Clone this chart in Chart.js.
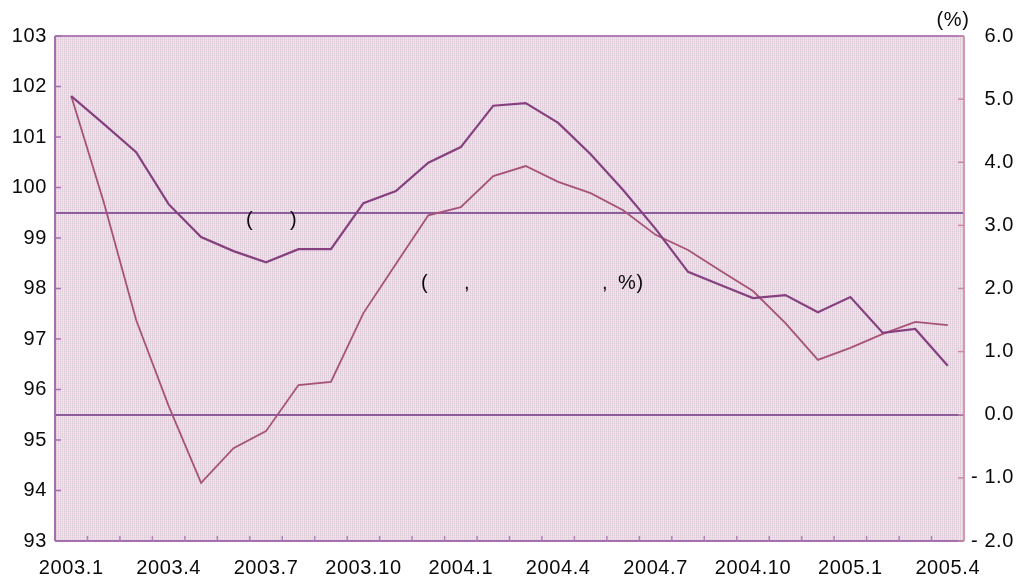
<!DOCTYPE html>
<html>
<head>
<meta charset="utf-8">
<script src="https://cdn.jsdelivr.net/npm/chart.js@4/dist/chart.umd.min.js"></script>
<style>
  html, body { margin: 0; padding: 0; background: #ffffff; }
  #wrap { width: 1023px; height: 585px; }
</style>
</head>
<body>
<div id="wrap"><canvas id="c" width="1023" height="585"></canvas></div>
<script>
// ---- Data ----
const categories = [
  '2003.1','2003.2','2003.3','2003.4','2003.5','2003.6','2003.7','2003.8','2003.9','2003.10','2003.11','2003.12',
  '2004.1','2004.2','2004.3','2004.4','2004.5','2004.6','2004.7','2004.8','2004.9','2004.10','2004.11','2004.12',
  '2005.1','2005.2','2005.3','2005.4'
];
const shownTickLabels = ['2003.1','2003.4','2003.7','2003.10','2004.1','2004.4','2004.7','2004.10','2005.1','2005.4'];
// left axis series
const seriesLeft = [
  101.81, 101.26, 100.70, 99.67, 99.02, 98.74, 98.52, 98.78, 98.78, 99.69, 99.93, 100.49,
  100.80, 101.62, 101.67, 101.28, 100.66, 99.95, 99.18, 98.33, 98.07, 97.81, 97.87, 97.53,
  97.83, 97.12, 97.20, 96.47
];
// right axis series (%)
const seriesRight = [
  5.05, 3.37, 1.50, 0.14, -1.08, -0.53, -0.26, 0.47, 0.52, 1.61, 2.39, 3.16,
  3.29, 3.78, 3.94, 3.69, 3.51, 3.24, 2.85, 2.61, 2.28, 1.96, 1.45, 0.87,
  1.06, 1.28, 1.47, 1.42
];
const leftTicks = { min: 93, max: 103, step: 1 };
const rightTicks = { min: -2, max: 6, step: 1 };
const referenceLinesLeft = [99.5, 95.5];
const rightUnitLabel = '(%)';

const FONT = "'Liberation Sans', Arial, sans-serif";

// background pattern
function makePattern(ctx) {
  const t = document.createElement('canvas');
  t.width = 2; t.height = 2;
  const c = t.getContext('2d');
  const cols = [['#eecfe1', '#f3ebf2'], ['#d6d1d7', '#e9dde8']];
  for (let r = 0; r < 2; r++) for (let q = 0; q < 2; q++) {
    c.fillStyle = cols[r][q]; c.fillRect(q, r, 1, 1);
  }
  return ctx.createPattern(t, 'repeat');
}

const framePlugin = {
  id: 'frame',
  beforeDraw(chart) {
    const ctx = chart.ctx;
    ctx.letterSpacing = '0.6px';
    const a = chart.chartArea;
    ctx.save();
    ctx.fillStyle = makePattern(ctx);
    ctx.fillRect(a.left, a.top, a.right - a.left, a.bottom - a.top);
    ctx.restore();
  },
  beforeDatasetsDraw(chart) {
    const ctx = chart.ctx;
    const a = chart.chartArea;
    const y = chart.scales.y;
    ctx.save();
    ctx.strokeStyle = '#8d5c9c';
    ctx.lineWidth = 2;
    referenceLinesLeft.forEach(v => {
      const py = Math.round(y.getPixelForValue(v));
      ctx.beginPath(); ctx.moveTo(a.left, py); ctx.lineTo(a.right, py); ctx.stroke();
    });
    ctx.restore();
  },
  afterDatasetsDraw(chart) {
    const ctx = chart.ctx;
    const a = chart.chartArea;
    const x = chart.scales.x, y = chart.scales.y, y1 = chart.scales.y1;
    ctx.save();
    // borders
    ctx.lineWidth = 2;
    ctx.strokeStyle = '#b47fb8';
    ctx.beginPath(); ctx.moveTo(a.left, a.top); ctx.lineTo(a.right, a.top); ctx.stroke();
    ctx.strokeStyle = '#a56fae';
    ctx.beginPath(); ctx.moveTo(a.left, a.top); ctx.lineTo(a.left, a.bottom); ctx.stroke();
    ctx.beginPath(); ctx.moveTo(a.left, a.bottom); ctx.lineTo(a.right, a.bottom); ctx.stroke();
    ctx.strokeStyle = '#d49ab4';
    ctx.beginPath(); ctx.moveTo(a.right, a.top); ctx.lineTo(a.right, a.bottom); ctx.stroke();
    // inward ticks
    ctx.lineWidth = 1.5;
    ctx.strokeStyle = '#a56fae';
    y.ticks.forEach(t => {
      const py = y.getPixelForValue(t.value);
      ctx.beginPath(); ctx.moveTo(a.left, py); ctx.lineTo(a.left + 6, py); ctx.stroke();
    });
    ctx.strokeStyle = '#c78aaa';
    y1.ticks.forEach(t => {
      const py = y1.getPixelForValue(t.value);
      ctx.beginPath(); ctx.moveTo(a.right, py); ctx.lineTo(a.right - 6, py); ctx.stroke();
    });
    ctx.strokeStyle = '#b47fb8';
    for (let i = 0; i < categories.length - 1; i++) {
      const px = (x.getPixelForValue(i) + x.getPixelForValue(i + 1)) / 2;
      ctx.beginPath(); ctx.moveTo(px, a.bottom); ctx.lineTo(px, a.bottom - 5); ctx.stroke();
    }
    // texts
    ctx.fillStyle = '#0a0a0a';
    ctx.font = '20px ' + FONT;
    ctx.textBaseline = 'middle';
    ctx.textAlign = 'center';
    ctx.fillText(rightUnitLabel, a.right - 11, a.top - 16);
    ctx.textAlign = 'left';
    const parts1 = [['(', 246], [')', 290]];
    parts1.forEach(p => ctx.fillText(p[0], p[1], 220));
    const parts2 = [['(', 421], [',', 464], [',', 602], ['%)', 618]];
    parts2.forEach(p => ctx.fillText(p[0], p[1], 283));
    ctx.restore();
  }
};

new Chart(document.getElementById('c'), {
  type: 'line',
  data: {
    labels: categories,
    datasets: [
      {
        data: seriesLeft, yAxisID: 'y',
        borderColor: '#86407f', borderWidth: 2.2,
        pointRadius: 0, tension: 0, fill: false
      },
      {
        data: seriesRight, yAxisID: 'y1',
        borderColor: '#a8527a', borderWidth: 1.8,
        pointRadius: 0, tension: 0, fill: false
      }
    ]
  },
  options: {
    responsive: false,
    animation: false,
    devicePixelRatio: 1,
    layout: { padding: { top: 36, right: 9, bottom: 0, left: 0 } },
    plugins: { legend: { display: false }, tooltip: { enabled: false } },
    scales: {
      x: {
        offset: true,
        grid: { display: false, drawTicks: false },
        border: { display: false },
        ticks: {
          autoSkip: false, maxRotation: 0, minRotation: 0, padding: 15,
          color: '#0a0a0a', font: { size: 20, family: FONT },
          callback: function (v, i) {
            const l = categories[i];
            return shownTickLabels.includes(l) ? l : '';
          }
        },
        afterFit(s) { s.height = 44; }
      },
      y: {
        position: 'left',
        min: leftTicks.min, max: leftTicks.max,
        grid: { display: false, drawTicks: false },
        border: { display: false },
        ticks: { stepSize: leftTicks.step, padding: 8, color: '#0a0a0a', font: { size: 20, family: FONT } },
        afterFit(s) { s.width = 55; }
      },
      y1: {
        position: 'right',
        min: rightTicks.min, max: rightTicks.max,
        grid: { display: false, drawTicks: false },
        border: { display: false },
        ticks: {
          stepSize: rightTicks.step, padding: 8, crossAlign: 'far',
          color: '#0a0a0a', font: { size: 20, family: FONT },
          callback: v => (v < 0 ? '- ' + Math.abs(v).toFixed(1) : v.toFixed(1))
        },
        afterFit(s) { s.width = 50; }
      }
    }
  },
  plugins: [framePlugin]
});
</script>
</body>
</html>
